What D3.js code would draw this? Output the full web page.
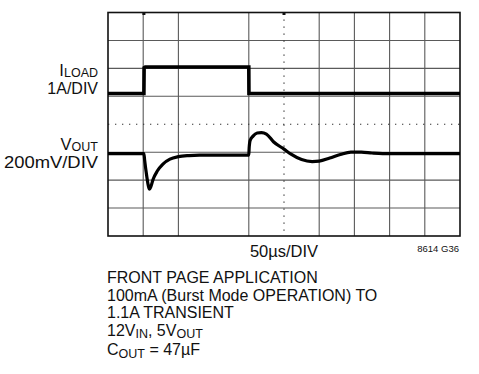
<!DOCTYPE html>
<html>
<head>
<meta charset="utf-8">
<script src="https://cdn.jsdelivr.net/npm/d3@7"></script>
<style>
  html, body { margin: 0; padding: 0; background: #fff; }
  svg { display: block; }
  text { font-family: "Liberation Sans", Arial, sans-serif; fill: #111; }
</style>
</head>
<body>
<svg id="chart" width="479" height="374"></svg>
<script>
// ---- data ----
// time axis: 50 µs/div, 10 divisions
const timeDomain = [0, 500];
// ILOAD trace (time µs, amps) — 1 A/DIV
const iloadTime = [0, 51, 51.3, 53, 200, 200.2, 500];
const iloadAmps = [0.1, 0.1, 1.02, 1.05, 1.05, 0.1, 0.1];
// VOUT trace (time µs, deviation mV) — 200 mV/DIV
const voutTime = [0, 51, 52, 55, 57.5, 59, 61, 64, 70, 78, 88, 100, 115, 130, 200, 200.5, 202, 206, 212, 218, 225, 235, 250, 260, 275, 290, 300, 315, 330, 345, 360, 375, 390, 500];
const voutMv   = [0, 0, -45, -160, -235, -255, -235, -185, -125, -75, -40, -22, -14, -11, -11, 40, 95, 125, 147, 150, 140, 85, 32, -4, -43, -57, -54, -32, -7, 11, 11, 4, 0, 0];
// graticule divisions
const xDivs = [0,1,2,3,4,5,6,7,8,9,10];
const yDivs = [0,1,2,3,4,5,6,7,8];
const missingXDivs = [3];
// labels
const iloadLabel = ["I", "LOAD", "1A/DIV"];
const voutLabel = ["V", "OUT", "200mV/DIV"];
const timeLabel = "50µs/DIV";
const figId = "8614 G36";
const noteLines = [
  [["FRONT PAGE APPLICATION", false]],
  [["100mA (Burst Mode OPERATION) TO", false]],
  [["1.1A TRANSIENT", false]],
  [["12V", false], ["IN", true], [", 5V", false], ["OUT", true]],
  [["C", false], ["OUT", true], [" = 47µF", false]]
];

// ---- layout ----
const svg = d3.select("#chart");
const L = 108, R = 460, T = 12.5, B = 236;

const x = d3.scaleLinear().domain(timeDomain).range([L, R]);
const xd = d3.scaleLinear().domain([0, 10]).range([L, R]);
const yd = d3.scaleLinear().domain([0, 8]).range([B, T]);
// channel scales
const yI = d3.scaleLinear().domain([-5, 3]).range([B, T]);      // 1 A/div
const yV = d3.scaleLinear().domain([-590, 1010]).range([B, T]); // 200 mV/div

// grid
const g = svg.append("g");
xDivs.filter(d => d > 0 && d < 10 && d !== 5 && !missingXDivs.includes(d)).forEach(d => {
  g.append("line").attr("x1", xd(d)).attr("x2", xd(d)).attr("y1", T).attr("y2", B)
    .attr("stroke", "#5a5a5a").attr("stroke-width", 1.1);
});
yDivs.filter(d => d > 0 && d < 8 && d !== 4).forEach(d => {
  g.append("line").attr("x1", L).attr("x2", R).attr("y1", yd(d)).attr("y2", yd(d))
    .attr("stroke", "#5a5a5a").attr("stroke-width", 1.1);
});
// dotted center lines
g.append("line").attr("x1", xd(5)).attr("x2", xd(5)).attr("y1", T).attr("y2", B)
  .attr("stroke", "#333").attr("stroke-width", 1.2).attr("stroke-dasharray", "1.3,5.7");
g.append("line").attr("x1", L).attr("x2", R).attr("y1", yd(4)).attr("y2", yd(4))
  .attr("stroke", "#333").attr("stroke-width", 1.2).attr("stroke-dasharray", "1.3,5.7");
// frame
g.append("rect").attr("x", L).attr("y", T).attr("width", R - L).attr("height", B - T)
  .attr("fill", "none").attr("stroke", "#111").attr("stroke-width", 1.6);
// trigger markers at top edge
[51, 250].forEach(t => {
  g.append("rect").attr("x", x(t) - 1.5).attr("y", T - 0.5).attr("width", 3).attr("height", 3).attr("fill", "#111");
});

// traces
const iData = iloadTime.map((t, i) => [t, iloadAmps[i]]);
const vData = voutTime.map((t, i) => [t, voutMv[i]]);
svg.append("path").datum(iData)
  .attr("d", d3.line().x(d => x(d[0])).y(d => yI(d[1])))
  .attr("fill", "none").attr("stroke", "#000").attr("stroke-width", 3.6);
svg.append("path").datum(vData)
  .attr("d", d3.line().curve(d3.curveMonotoneX).x(d => x(d[0])).y(d => yV(d[1])))
  .attr("fill", "none").attr("stroke", "#000").attr("stroke-width", 3.2);

// channel labels
function labelWithSub(xp, yp, main, sub) {
  const t = svg.append("text").attr("x", xp).attr("y", yp).attr("text-anchor", "end")
    .attr("font-size", 16.5);
  t.append("tspan").text(main);
  t.append("tspan").attr("font-size", 12.5).attr("dy", 1).text(sub);
}
labelWithSub(98, 76, iloadLabel[0], iloadLabel[1]);
svg.append("text").attr("x", 98).attr("y", 93.5).attr("text-anchor", "end").attr("font-size", 16).text(iloadLabel[2]);
labelWithSub(98, 149.5, voutLabel[0], voutLabel[1]);
svg.append("text").attr("x", 98).attr("y", 167.5).attr("text-anchor", "end").attr("font-size", 16)
  .attr("textLength", 94).attr("lengthAdjust", "spacingAndGlyphs").text(voutLabel[2]);

svg.append("text").attr("x", xd(5)).attr("y", 257).attr("text-anchor", "middle").attr("font-size", 16.5).text(timeLabel);
svg.append("text").attr("x", 459).attr("y", 251.5).attr("text-anchor", "end").attr("font-size", 9.5).text(figId);

// notes
const baselines = [283, 300.5, 318, 335.5, 355];
noteLines.forEach((parts, i) => {
  const t = svg.append("text").attr("x", 107).attr("y", baselines[i]).attr("font-size", 16);
  parts.forEach(([s, sub], j) => {
    const prevSub = j > 0 && parts[j - 1][1];
    const dy = sub ? 2.5 : (prevSub ? -2.5 : 0);
    t.append("tspan").attr("dy", dy).attr("font-size", sub ? 12.5 : 16).text(s);
  });
});
</script>
</body>
</html>
